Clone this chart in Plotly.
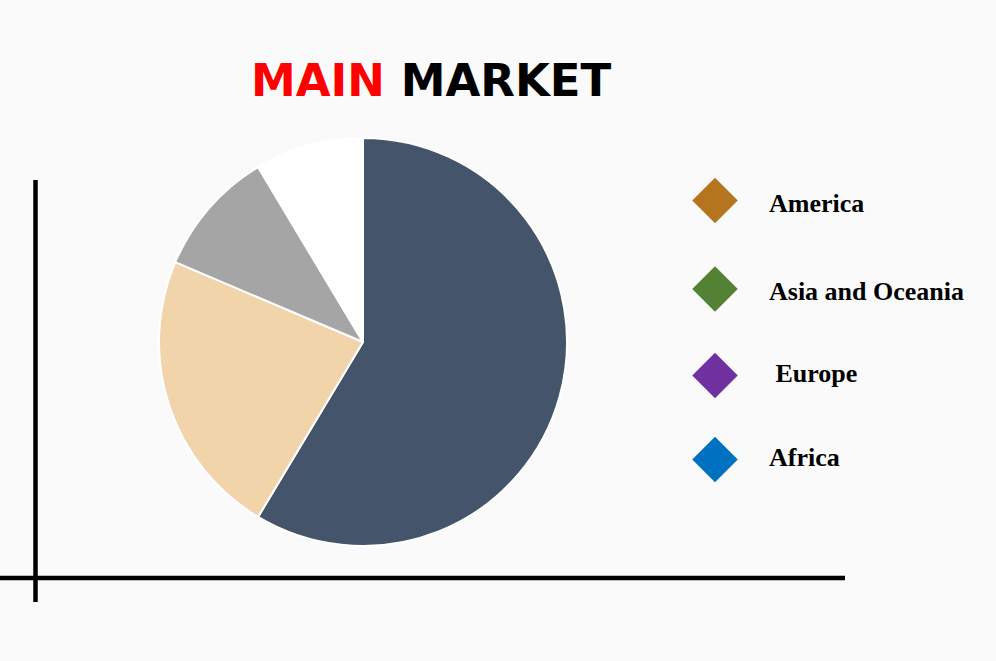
import plotly.graph_objects as go

# ---- data ----
slice_labels = ["America", "Asia and Oceania", "Europe", "Africa"]
slice_values = [58.6, 22.8, 10.0, 8.6]
slice_colors = ["#44546A", "#F1D4AA", "#A5A5A5", "#FFFFFF"]

legend_labels = ["America", "Asia and Oceania", " Europe", "Africa"]
legend_colors = ["#B5751F", "#548235", "#7030A0", "#0070C0"]
legend_marker_y = [200.5, 289, 375.5, 459.5]
legend_text_y = [203, 291, 373.5, 457.5]

W, H = 996, 661
BG = "#FAFAFA"

fig = go.Figure()

# pie (domain square 408x408 centered at (363, 342) in pixels)
cx, cy, r = 363, 342, 204
fig.add_trace(go.Pie(
    labels=slice_labels,
    values=slice_values,
    sort=False,
    direction="clockwise",
    rotation=0,
    marker=dict(colors=slice_colors, line=dict(color="white", width=2)),
    textinfo="none",
    hoverinfo="label+percent",
    showlegend=False,
    domain=dict(x=[(cx - r) / W, (cx + r) / W], y=[(H - cy - r) / H, (H - cy + r) / H]),
))

# custom legend markers
fig.add_trace(go.Scatter(
    x=[715] * len(legend_labels),
    y=legend_marker_y,
    mode="markers",
    marker=dict(symbol="diamond", size=35, color=legend_colors, line=dict(width=0)),
    showlegend=False,
    hoverinfo="skip",
))

annotations = [
    dict(x=431 / W, y=1 - 81 / H, xref="paper", yref="paper",
         text="<b><span style='color:#FF0000'>MAIN</span> <span style='color:#000000'>MARKET</span></b>",
         showarrow=False, xanchor="center", yanchor="middle",
         font=dict(family="DejaVu Sans", size=45, color="#000000")),
]
for lab, yy in zip(legend_labels, legend_text_y):
    txt = "<b>" + lab.replace(" ", "&nbsp;") + "</b>" if lab.startswith(" ") else "<b>" + lab + "</b>"
    annotations.append(dict(
        x=767, y=yy, xref="x", yref="y", text=txt,
        showarrow=False, xanchor="left", yanchor="middle",
        font=dict(family="Liberation Serif, Times New Roman", size=26, color="#000000"),
    ))

shapes = [
    dict(type="line", xref="x", yref="y", x0=35.5, x1=35.5, y0=180, y1=602,
         line=dict(color="black", width=4.5)),
    dict(type="line", xref="x", yref="y", x0=0, x1=845, y0=578, y1=578,
         line=dict(color="black", width=4.5)),
]

fig.update_layout(
    width=W, height=H,
    margin=dict(l=0, r=0, t=0, b=0),
    paper_bgcolor=BG, plot_bgcolor=BG,
    xaxis=dict(range=[0, W], visible=False, domain=[0, 1], fixedrange=True),
    yaxis=dict(range=[H, 0], visible=False, domain=[0, 1], fixedrange=True),
    annotations=annotations,
    shapes=shapes,
)

fig.write_html(
    "out.html",
    config={"displayModeBar": False},
    post_script="document.body.style.margin='0';document.body.style.background='#FAFAFA';",
)
